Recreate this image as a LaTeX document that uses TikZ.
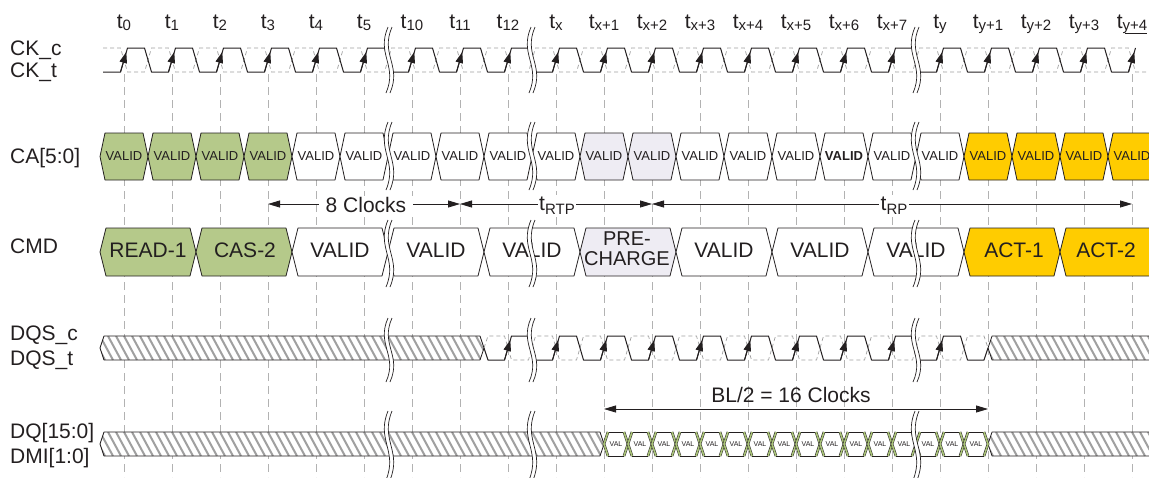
\documentclass[tikz,border=0pt]{standalone}
\usepackage{fontspec}
\setmainfont{Liberation Sans}
\usetikzlibrary{arrows.meta}
\definecolor{cagreen}{RGB}{181,201,138}
\definecolor{cayellow}{RGB}{255,204,0}
\definecolor{calav}{RGB}{238,236,243}
\definecolor{ink}{RGB}{35,31,32}
\definecolor{hatchgray}{RGB}{160,160,160}
\definecolor{eyegreen}{RGB}{170,196,120}
\newcommand{\fsz}[1]{\fontsize{#1}{#1}\selectfont}
\newcommand{\tsub}[1]{t\raisebox{-2pt}{\fsz{15}#1}}
\newcommand{\hexbox}[6]{%
  \draw[#1] (#2,{(#4+#5)/2}) -- ({#2+#6},#4) -- ({#3-#6},#4) -- (#3,{(#4+#5)/2}) -- ({#3-#6},#5) -- ({#2+#6},#5) -- cycle;}
\newcommand{\hatchbar}[4]{%
  \fill[white] (#1,{(#3+#4)/2}) -- ({#1+4},#3) -- ({#2-4},#3) -- (#2,{(#3+#4)/2}) -- ({#2-4},#4) -- ({#1+4},#4) -- cycle;
  \begin{scope}
    \clip (#1,{(#3+#4)/2}) -- ({#1+4},#3) -- ({#2-4},#3) -- (#2,{(#3+#4)/2}) -- ({#2-4},#4) -- ({#1+4},#4) -- cycle;
    \foreach \k in {0,...,70} {\draw[hatchline] ({#1-16+8*\k},#3) -- ({#1-3+8*\k},#4);}
  \end{scope}
  \hexbox{outline}{#1}{#2}{#3}{#4}{4}}
\newcommand{\mybreak}[3]{%
  \fill[white] ({#1+2},#2) .. controls ({#1-10},{#2+0.42*(#3-#2)}) and ({#1+12},{#2+0.58*(#3-#2)}) .. (#1,#3) -- ({#1+4},#3) .. controls ({#1+16},{#2+0.58*(#3-#2)}) and ({#1-6},{#2+0.42*(#3-#2)}) .. ({#1+6},#2) -- cycle;
  \draw[brk] ({#1+2},#2) .. controls ({#1-10},{#2+0.42*(#3-#2)}) and ({#1+12},{#2+0.58*(#3-#2)}) .. (#1,#3);
  \draw[brk] ({#1+6},#2) .. controls ({#1-6},{#2+0.42*(#3-#2)}) and ({#1+16},{#2+0.58*(#3-#2)}) .. ({#1+4},#3);}

\begin{document}
\begin{tikzpicture}[x=1pt,y=-1pt,
  grid/.style={gray!60, dash pattern=on 8pt off 5pt, line width=0.6pt},
  sig/.style={ink, line width=1pt, line join=round},
  sigc/.style={gray!75, dash pattern=on 4pt off 3pt, line width=0.7pt},
  edgearrow/.style={ink, line width=1pt, -{Triangle[length=11pt,width=7.5pt]}},
  dim/.style={ink, line width=0.8pt, {Triangle[length=12pt,width=7pt]}-{Triangle[length=12pt,width=7pt]}},
  outline/.style={ink, line width=0.8pt, line join=round},
  hatchline/.style={hatchgray, line width=2pt},
  brk/.style={ink, line width=0.7pt},
  lbl/.style={font=\fsz{21}, text=ink, inner sep=0pt},
  catxt/.style={font=\fsz{13}, text=ink, inner sep=0pt},
  eyetxt/.style={font=\fsz{7}, text=ink, inner sep=0pt},
  eyeedge/.style={ink, line width=2.6pt},
  eyeside/.style={eyegreen, line width=1.6pt},
]
\useasboundingbox (0,0) rectangle (1149,477);
\clip (0,0) rectangle (1149,477);

% ---- time labels
\node[lbl, anchor=base] (tl0) at (124,28) {\tsub{0}};
\node[lbl, anchor=base] (tl1) at (172,28) {\tsub{1}};
\node[lbl, anchor=base] (tl2) at (220,28) {\tsub{2}};
\node[lbl, anchor=base] (tl3) at (268,28) {\tsub{3}};
\node[lbl, anchor=base] (tl4) at (316,28) {\tsub{4}};
\node[lbl, anchor=base] (tl5) at (364,28) {\tsub{5}};
\node[lbl, anchor=base] (tl6) at (412,28) {\tsub{10}};
\node[lbl, anchor=base] (tl7) at (460,28) {\tsub{11}};
\node[lbl, anchor=base] (tl8) at (508,28) {\tsub{12}};
\node[lbl, anchor=base] (tl9) at (556,28) {\tsub{x}};
\node[lbl, anchor=base] (tl10) at (604,28) {\tsub{x+1}};
\node[lbl, anchor=base] (tl11) at (652,28) {\tsub{x+2}};
\node[lbl, anchor=base] (tl12) at (700,28) {\tsub{x+3}};
\node[lbl, anchor=base] (tl13) at (748,28) {\tsub{x+4}};
\node[lbl, anchor=base] (tl14) at (796,28) {\tsub{x+5}};
\node[lbl, anchor=base] (tl15) at (844,28) {\tsub{x+6}};
\node[lbl, anchor=base] (tl16) at (892,28) {\tsub{x+7}};
\node[lbl, anchor=base] (tl17) at (940,28) {\tsub{y}};
\node[lbl, anchor=base] (tl18) at (988,28) {\tsub{y+1}};
\node[lbl, anchor=base] (tl19) at (1036,28) {\tsub{y+2}};
\node[lbl, anchor=base] (tl20) at (1084,28) {\tsub{y+3}};
\node[lbl, anchor=base] (tl21) at (1132,28) {\tsub{y+4}};
\draw[ink, line width=0.8pt] (1125,33) -- (1147,33);

% ---- signal names
\node[lbl, anchor=base west] (lckc) at (10,55) {CK\_c};
\node[lbl, anchor=base west] (lckt) at (10,77) {CK\_t};
\node[lbl, anchor=base west] (lca) at (10,163) {CA[5:0]};
\node[lbl, anchor=base west] (lcmd) at (10,253) {CMD};
\node[lbl, anchor=base west] (ldqsc) at (10,340) {DQS\_c};
\node[lbl, anchor=base west] (ldqst) at (10,365) {DQS\_t};
\node[lbl, anchor=base west] (ldq) at (10,438) {DQ[15:0]};
\node[lbl, anchor=base west] (ldmi) at (10,463) {DMI[1:0]};

% ---- grid
\foreach \i in {0,...,21} \draw[grid] ({124+48*\i},74) -- ({124+48*\i},477);

% ---- clock
\draw[sigc] (103,48) foreach \i in {0,...,20} { -- ({120.5+48*\i},48) -- ({127.5+48*\i},72) -- ({144.5+48*\i},72) -- ({151.5+48*\i},48) } -- (1128.5,48) -- (1135.5,72) -- (1149,72);
\draw[sig] (103,72) foreach \i in {0,...,20} { -- ({120.5+48*\i},72) -- ({127.5+48*\i},48) -- ({144.5+48*\i},48) -- ({151.5+48*\i},72) } -- (1128.5,72) -- (1135.5,48);
\foreach \i in {0,...,21} \draw[edgearrow] ({120.5+48*\i},72) -- ({126.3+48*\i},52);

% ---- CA row
\foreach \i/\fc in {0/cagreen,1/cagreen,2/cagreen,3/cagreen,4/white,5/white,6/white,7/white,8/white,9/white,10/calav,11/calav,12/white,13/white,14/white,15/white,16/white,17/white,18/cayellow,19/cayellow,20/cayellow,21/cayellow}
  {\hexbox{outline, fill=\fc}{100+48*\i}{148+48*\i}{133}{180}{5}}
\foreach \i in {0,...,14,16,17,...,21} \node[catxt] (ca\i) at ({124+48*\i},156.5) {VALID};
\node[catxt, font=\fsz{13}\bfseries] (ca15) at (844,156.5) {VALID};

% ---- CMD row
\foreach \k/\fc in {0/cagreen,1/cagreen,2/white,3/white,4/white,5/calav,6/white,7/white,8/white,9/cayellow,10/cayellow}
  {\hexbox{outline, fill=\fc}{100+96*\k}{196+96*\k}{228}{276}{6}}
\node[lbl] (cmd0) at (148,250) {READ-1};
\node[lbl] (cmd1) at (245,250) {CAS-2};
\node[lbl] (cmd2) at (340,250) {VALID};
\node[lbl] (cmd3) at (436,250) {VALID};
\node[lbl] (cmd4) at (532,250) {VALID};
\node[lbl, align=center, font=\fontsize{20}{20}\selectfont] (cmd5) at (627,249) {PRE-\\CHARGE};
\node[lbl] (cmd6) at (724,250) {VALID};
\node[lbl] (cmd7) at (820,250) {VALID};
\node[lbl] (cmd8) at (916,250) {VALID};
\node[lbl] (cmd9) at (1014,250) {ACT-1};
\node[lbl] (cmd10) at (1106,250) {ACT-2};

% ---- dimension arrows
\coordinate (d8a) at (268,204);
\coordinate (d8b) at (460,204);
\coordinate (drtp) at (652,204);
\coordinate (drp) at (1132,204);
\draw[dim] (d8a) -- (d8b);
\draw[dim] (d8b) -- (drtp);
\draw[dim] (drtp) -- (drp);
\node[lbl, fill=white, inner xsep=7pt, inner ysep=1pt] (l8clk) at (366,204.5) {8 Clocks};
\node[lbl, fill=white, inner xsep=1.5pt, inner ysep=1pt, anchor=base] (ltrtp) at (557,210) {t\raisebox{-4pt}{\fsz{15}RTP}};
\node[lbl, fill=white, inner xsep=1.5pt, inner ysep=1pt, anchor=base] (ltrp) at (894,210) {t\raisebox{-4pt}{\fsz{15}RP}};

% ---- DQS row
\hatchbar{100}{484}{336}{360}
\hatchbar{988}{1170}{336}{360}
\draw[sigc] (484,348) -- (488,336) foreach \i in {8,...,17} { -- ({120.5+48*\i},336) -- ({127.5+48*\i},360) -- ({144.5+48*\i},360) -- ({151.5+48*\i},336) } -- (984,336) -- (988,348);
\draw[sig] (484,348) -- (488,360) foreach \i in {8,...,17} { -- ({120.5+48*\i},360) -- ({127.5+48*\i},336) -- ({144.5+48*\i},336) -- ({151.5+48*\i},360) } -- (984,360) -- (988,348);
\foreach \i in {8,...,17} \draw[edgearrow] ({120.5+48*\i},360) -- ({126.3+48*\i},340);

% ---- DQ row
\hatchbar{100}{604}{432}{456}
\hatchbar{988}{1170}{432}{456}
\foreach \k in {0,...,15} {
  \fill[white] ({604+24*\k},444) -- ({608+24*\k},432) -- ({624+24*\k},432) -- ({628+24*\k},444) -- ({624+24*\k},456) -- ({608+24*\k},456) -- cycle;
  \draw[outline] ({608+24*\k},432) -- ({624+24*\k},432);
  \draw[outline] ({608+24*\k},456) -- ({624+24*\k},456);
  \draw[eyeedge] ({608+24*\k},432) -- ({604+24*\k},444) -- ({608+24*\k},456);
  \draw[eyeedge] ({624+24*\k},432) -- ({628+24*\k},444) -- ({624+24*\k},456);
  \draw[eyeside] ({608+24*\k},432) -- ({604+24*\k},444) -- ({608+24*\k},456);
  \draw[eyeside] ({624+24*\k},432) -- ({628+24*\k},444) -- ({624+24*\k},456);
  \node[eyetxt] (dq\k) at ({616+24*\k},444) {VAL};
}
\coordinate (bla) at (604,409);
\coordinate (blb) at (988,409);
\draw[dim] (bla) -- (blb);
\node[lbl, anchor=base] (lbl2) at (791,402) {BL/2 = 16 Clocks};

% ---- breaks
\foreach \bx in {386,529,913} {
  \mybreak{\bx}{27}{93}
  \mybreak{\bx}{122}{190}
  \mybreak{\bx}{220}{287}
  \mybreak{\bx}{318}{382}
  \mybreak{\bx}{411}{480}
}
\end{tikzpicture}
\end{document}
